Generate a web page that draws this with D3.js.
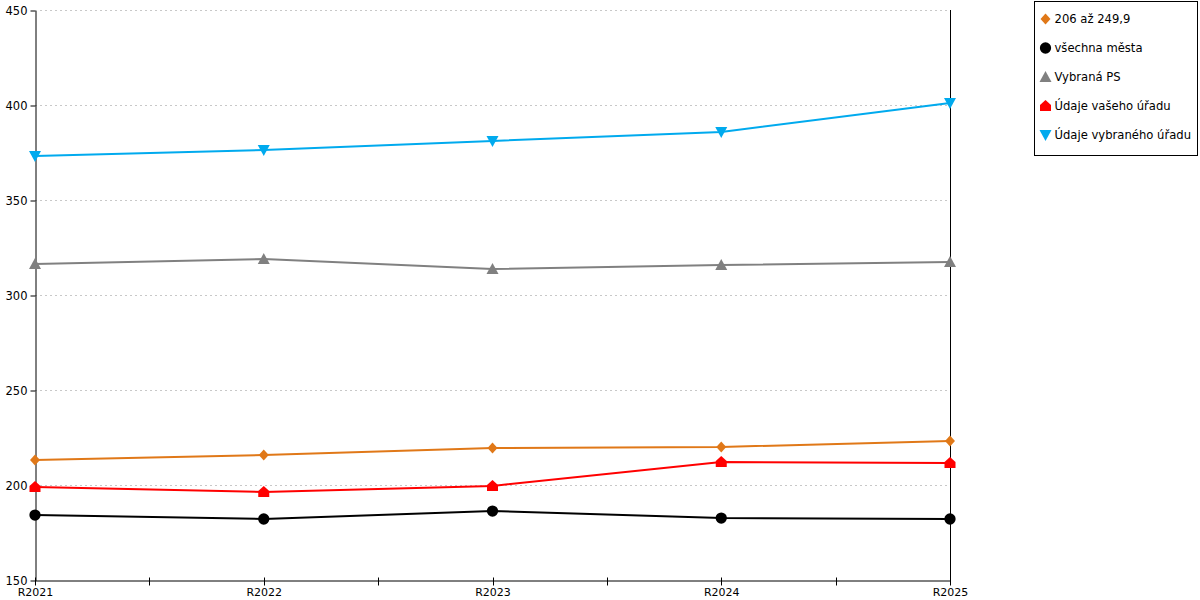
<!DOCTYPE html>
<html>
<head>
<meta charset="utf-8">
<script src="https://cdn.jsdelivr.net/npm/d3@7"></script>
<style>
  body { margin: 0; background: #fff; }
  svg { font-family: "DejaVu Sans", sans-serif; }
</style>
</head>
<body>
<script>
// data
var categories = ["R2021", "R2022", "R2023", "R2024", "R2025"];
var yTicks = [150, 200, 250, 300, 350, 400, 450];

var skupina = [213.2, 215.8, 219.5, 220.0, 223.2];
var vsechnaMesta = [184.2, 182.1, 186.3, 182.6, 182.1];
var vybranaPS = [316.3, 318.9, 313.7, 315.8, 317.4];
var vasUrad = [199.0, 196.3, 199.5, 212.1, 211.6];
var vybranyUrad = [373.2, 376.3, 381.1, 385.8, 401.1];

var series = [
  { name: "206 až 249,9", values: skupina, color: "#e07818", marker: "diamond" },
  { name: "všechna města", values: vsechnaMesta, color: "#000000", marker: "circle" },
  { name: "Vybraná PS", values: vybranaPS, color: "#808080", marker: "triangle" },
  { name: "Údaje vašeho úřadu", values: vasUrad, color: "#ff0000", marker: "house" },
  { name: "Údaje vybraného úřadu", values: vybranyUrad, color: "#00aaee", marker: "down" }
];

var width = 1200, height = 600;
var plotLeft = 35, plotRight = 950, plotTop = 10, plotBottom = 580;

var svg = d3.select("body").append("svg")
    .attr("width", width)
    .attr("height", height);

var x = d3.scalePoint().domain(categories).range([plotLeft, plotRight]);
var y = d3.scaleLinear().domain([150, 450]).range([plotBottom, plotTop]);

// grid
svg.append("g")
    .selectAll("line")
    .data(yTicks.slice(1))
    .join("line")
        .attr("x1", plotLeft)
        .attr("x2", plotRight)
        .attr("y1", function (d) { return y(d) + 0.5; })
        .attr("y2", function (d) { return y(d) + 0.5; })
        .attr("stroke", "#c8c8c8")
        .attr("stroke-dasharray", "2,3");

// right border line
svg.append("line")
    .attr("x1", plotRight + 0.5).attr("x2", plotRight + 0.5)
    .attr("y1", plotTop).attr("y2", plotBottom)
    .attr("stroke", "#000");

// y axis
var yAxis = svg.append("g")
    .attr("transform", "translate(" + (plotLeft + 0.5) + ",0.5)")
    .call(d3.axisLeft(y).tickValues(yTicks).tickSize(5).tickSizeOuter(0).tickPadding(3));
yAxis.select(".domain").attr("stroke", "#000");
yAxis.selectAll("text").attr("font-size", 11.5).attr("fill", "#000")
    .attr("font-family", "DejaVu Sans");

// x axis with half-step minor ticks
var xAxis = svg.append("g")
    .attr("transform", "translate(0," + (plotBottom + 0.5) + ")")
    .call(d3.axisBottom(x).tickSize(0).tickSizeOuter(0).tickPadding(8));
xAxis.select(".domain").attr("stroke", "#000");
xAxis.selectAll("text").attr("font-size", 11).attr("fill", "#000")
    .attr("font-family", "DejaVu Sans");

var step = x.step();
var minor = categories.slice(0, -1).map(function (c) { return x(c) + step / 2; });
xAxis.selectAll("line.minor")
    .data(minor.concat(categories.map(function (c) { return x(c); })))
    .join("line")
        .attr("class", "minor")
        .attr("x1", function (d) { return Math.round(d) + 0.5; })
        .attr("x2", function (d) { return Math.round(d) + 0.5; })
        .attr("y1", -3)
        .attr("y2", 5)
        .attr("stroke", "#000");

// marker shapes
function markerPath(type) {
  if (type === "diamond") return "M0,-5.5L5,0L0,5.5L-5,0Z";
  if (type === "circle") return d3.symbol().type(d3.symbolCircle).size(100)();
  if (type === "triangle") return "M0,-6L6,5L-6,5Z";
  if (type === "house") return "M0,-6L5.5,-1L5.5,5L-5.5,5L-5.5,-1Z";
  if (type === "down") return "M-6,-5L6,-5L0,6Z";
}

var line = d3.line()
    .x(function (d, i) { return x(categories[i]); })
    .y(function (d) { return y(d); });

series.forEach(function (s) {
  var g = svg.append("g");
  g.append("path")
      .attr("d", line(s.values))
      .attr("fill", "none")
      .attr("stroke", s.color)
      .attr("stroke-width", 2);
  g.selectAll("path.mk")
      .data(s.values)
      .join("path")
          .attr("class", "mk")
          .attr("d", markerPath(s.marker))
          .attr("transform", function (d, i) {
            return "translate(" + x(categories[i]) + "," + y(d) + ")";
          })
          .attr("fill", s.color);
});

// legend
var legend = svg.append("g").attr("transform", "translate(1034.5,1.5)");
legend.append("rect")
    .attr("width", 163)
    .attr("height", 154)
    .attr("fill", "#fff")
    .attr("stroke", "#000");

var item = legend.selectAll("g.item")
    .data(series)
    .join("g")
        .attr("class", "item")
        .attr("transform", function (d, i) { return "translate(11," + (17.5 + i * 29) + ")"; });
item.append("path")
    .attr("d", function (d) { return markerPath(d.marker); })
    .attr("fill", function (d) { return d.color; });
item.append("text")
    .attr("x", 9)
    .attr("y", 4)
    .attr("font-size", 11.6)
    .attr("fill", "#000")
    .text(function (d) { return d.name; });
</script>
</body>
</html>
